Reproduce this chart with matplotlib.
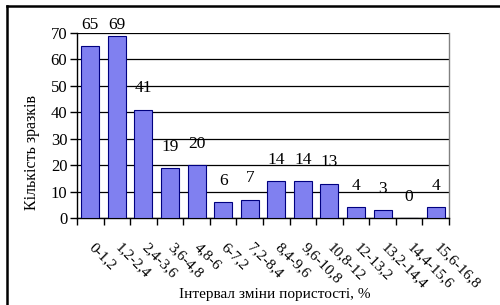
import matplotlib.pyplot as plt
import numpy as np

plt.rcParams['font.family'] = ['Liberation Serif', 'DejaVu Serif']

intervals = ['0-1,2', '1,2-2,4', '2,4-3,6', '3,6-4,8', '4,8-6', '6-7,2', '7,2-8,4',
             '8,4-9,6', '9,6-10,8', '10,8-12', '12-13,2', '13,2-14,4', '14,4-15,6', '15,6-16,8']
counts = [65, 69, 41, 19, 20, 6, 7, 14, 14, 13, 4, 3, 0, 4]

fig = plt.figure(figsize=(5.0, 3.05), dpi=100)

# outer chart frame (cut off at right and bottom like the source)
bg = fig.add_axes([0.014, -0.05, 1.0, 1.03], zorder=-1)
bg.set_xticks([])
bg.set_yticks([])
bg.patch.set_alpha(0)
for s in bg.spines.values():
    s.set_color('black')
    s.set_linewidth(1.8)

ax = fig.add_axes([0.154, 0.285, 0.744, 0.607])

x = np.arange(len(counts))
bars = ax.bar(x, counts, width=0.68, color='#8080f0', edgecolor='#000080',
              linewidth=0.8, zorder=3)

# value labels above bars, kept inside the plot top
for xi, v in zip(x, counts):
    ax.text(xi, min(v + 5, 70), str(v), ha='center', va='bottom',
            fontsize=12.5, zorder=4, clip_on=False)

ax.set_xlim(-0.5, len(counts) - 0.5)
ax.set_ylim(0, 70)
ax.set_yticks(range(0, 71, 10))
ax.yaxis.grid(True, color='black', linewidth=0.9, zorder=0)
ax.set_axisbelow(True)

ax.set_xticks(np.append(x - 0.5, len(counts) - 0.5))
ax.set_xticklabels([])
ax.tick_params(axis='x', length=5, width=1, direction='out')
ax.tick_params(axis='y', length=5, width=1, direction='out', labelsize=12, pad=2)

for xi, lab in zip(x, intervals):
    ax.annotate(lab, xy=(xi, 0), xycoords=('data', 'axes fraction'),
                xytext=(5, -23), textcoords='offset pixels',
                rotation=-45, ha='left', va='top', rotation_mode='anchor',
                fontsize=11)

for side in ['left', 'bottom']:
    ax.spines[side].set_color('black')
    ax.spines[side].set_linewidth(1)
ax.spines['top'].set_visible(False)
ax.spines['right'].set_color('#808080')
ax.spines['right'].set_linewidth(1)

fig.text(0.064, 0.5, 'Кількість зразків', rotation=90, ha='center', va='center', fontsize=11.5)
fig.text(0.55, 0.035, 'Інтервал зміни пористості, %', ha='center', va='center', fontsize=11)

fig.savefig('out.png', dpi=100)
